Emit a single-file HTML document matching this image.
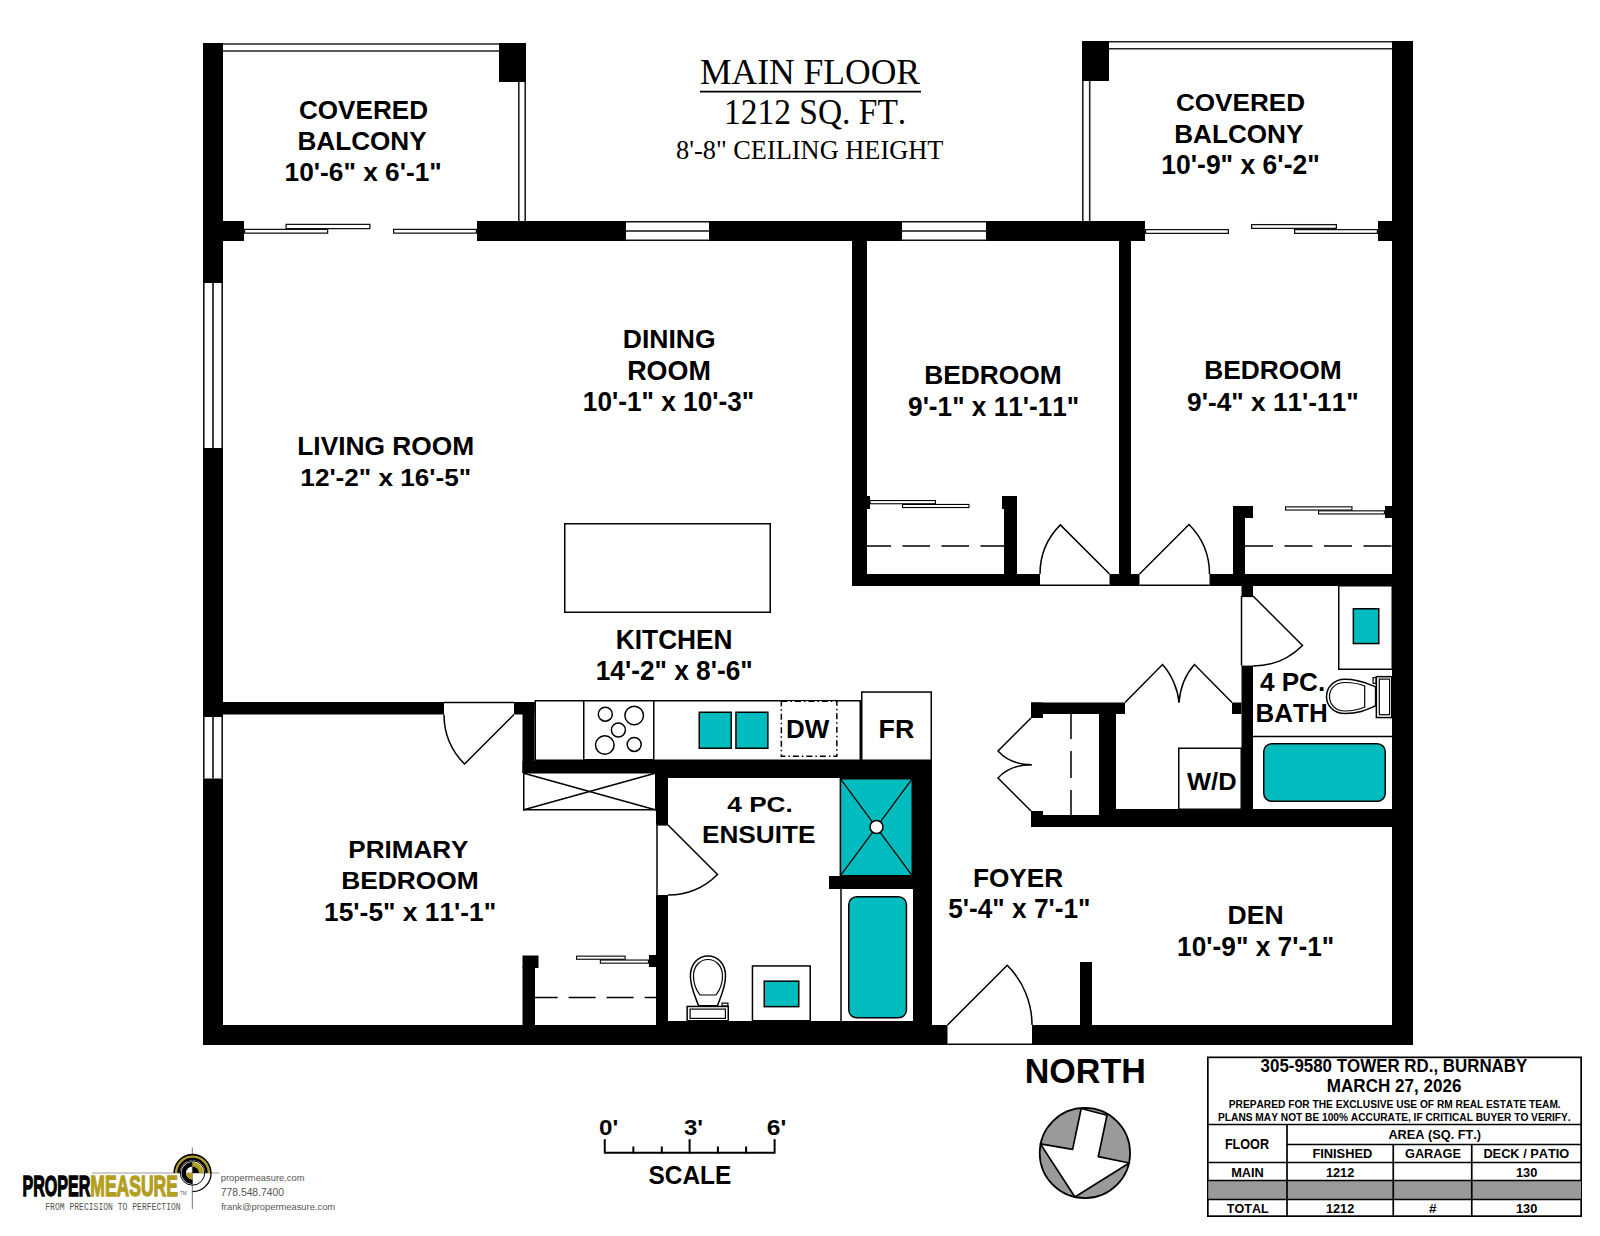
<!DOCTYPE html>
<html><head><meta charset="utf-8"><title>Main Floor Plan</title>
<style>html,body{margin:0;padding:0;background:#fff;width:1600px;height:1236px;overflow:hidden}svg{display:block}text{font-kerning:none}</style>
</head><body>
<svg width="1600" height="1236" viewBox="0 0 1600 1236">
<rect x="0" y="0" width="1600" height="1236" fill="#fff"/>
<rect x="203.00" y="43.00" width="20.00" height="240.00" fill="#000"/>
<rect x="203.00" y="448.00" width="20.00" height="269.00" fill="#000"/>
<rect x="203.00" y="778.50" width="20.00" height="266.50" fill="#000"/>
<line x1="203.80" y1="283.00" x2="203.80" y2="448.00" stroke="#111" stroke-width="1.6" />
<line x1="222.20" y1="283.00" x2="222.20" y2="448.00" stroke="#111" stroke-width="1.6" />
<line x1="213.00" y1="283.00" x2="213.00" y2="448.00" stroke="#111" stroke-width="1.6" />
<line x1="203.80" y1="717.00" x2="203.80" y2="778.50" stroke="#111" stroke-width="1.6" />
<line x1="222.20" y1="717.00" x2="222.20" y2="778.50" stroke="#111" stroke-width="1.6" />
<line x1="213.00" y1="717.00" x2="213.00" y2="778.50" stroke="#111" stroke-width="1.6" />
<line x1="223.00" y1="44.00" x2="499.00" y2="44.00" stroke="#222" stroke-width="1.6" />
<line x1="223.00" y1="51.00" x2="499.00" y2="51.00" stroke="#222" stroke-width="1.6" />
<rect x="499.00" y="43.00" width="27.00" height="39.00" fill="#000"/>
<line x1="518.80" y1="82.00" x2="518.80" y2="221.00" stroke="#222" stroke-width="1.6" />
<line x1="525.20" y1="82.00" x2="525.20" y2="221.00" stroke="#222" stroke-width="1.6" />
<rect x="223.00" y="221.00" width="21.00" height="20.00" fill="#000"/>
<rect x="477.00" y="221.00" width="149.00" height="20.00" fill="#000"/>
<line x1="626.00" y1="221.80" x2="709.00" y2="221.80" stroke="#111" stroke-width="1.6" />
<line x1="626.00" y1="240.20" x2="709.00" y2="240.20" stroke="#111" stroke-width="1.6" />
<line x1="626.00" y1="231.00" x2="709.00" y2="231.00" stroke="#111" stroke-width="1.6" />
<rect x="709.00" y="221.00" width="193.00" height="20.00" fill="#000"/>
<line x1="902.00" y1="221.80" x2="986.00" y2="221.80" stroke="#111" stroke-width="1.6" />
<line x1="902.00" y1="240.20" x2="986.00" y2="240.20" stroke="#111" stroke-width="1.6" />
<line x1="902.00" y1="231.00" x2="986.00" y2="231.00" stroke="#111" stroke-width="1.6" />
<rect x="986.00" y="221.00" width="159.00" height="20.00" fill="#000"/>
<rect x="1082.00" y="41.00" width="27.00" height="40.00" fill="#000"/>
<line x1="1109.00" y1="41.80" x2="1392.00" y2="41.80" stroke="#222" stroke-width="1.6" />
<line x1="1109.00" y1="48.70" x2="1392.00" y2="48.70" stroke="#222" stroke-width="1.6" />
<line x1="1082.80" y1="81.00" x2="1082.80" y2="221.00" stroke="#222" stroke-width="1.6" />
<line x1="1089.70" y1="81.00" x2="1089.70" y2="221.00" stroke="#222" stroke-width="1.6" />
<rect x="1392.00" y="41.00" width="21.00" height="1004.00" fill="#000"/>
<rect x="1378.00" y="221.00" width="14.00" height="20.00" fill="#000"/>
<rect x="286.12" y="224.38" width="83.75" height="4.25" fill="#fff" stroke="#111" stroke-width="1.25" />
<rect x="244.62" y="229.38" width="83.00" height="3.75" fill="#fff" stroke="#111" stroke-width="1.25" />
<rect x="393.62" y="229.38" width="82.75" height="3.75" fill="#fff" stroke="#111" stroke-width="1.25" />
<rect x="1145.62" y="229.62" width="82.75" height="3.75" fill="#fff" stroke="#111" stroke-width="1.25" />
<rect x="1251.62" y="224.62" width="84.75" height="3.75" fill="#fff" stroke="#111" stroke-width="1.25" />
<rect x="1294.62" y="229.62" width="82.75" height="3.75" fill="#fff" stroke="#111" stroke-width="1.25" />
<rect x="852.00" y="241.00" width="15.00" height="345.00" fill="#000"/>
<rect x="1119.00" y="241.00" width="12.00" height="333.00" fill="#000"/>
<rect x="852.00" y="574.00" width="188.00" height="12.00" fill="#000"/>
<rect x="1109.50" y="574.00" width="30.00" height="12.00" fill="#000"/>
<rect x="1209.50" y="574.00" width="182.50" height="12.00" fill="#000"/>
<rect x="1004.00" y="509.00" width="13.00" height="65.00" fill="#000"/>
<rect x="1002.00" y="496.00" width="15.00" height="13.00" fill="#000"/>
<rect x="1233.00" y="518.00" width="12.00" height="56.00" fill="#000"/>
<rect x="1233.00" y="506.00" width="20.00" height="12.00" fill="#000"/>
<rect x="867.00" y="496.00" width="3.00" height="13.00" fill="#000"/>
<rect x="870.05" y="500.55" width="65.40" height="3.20" fill="#fff" stroke="#000" stroke-width="1.1" />
<rect x="902.55" y="504.45" width="66.40" height="3.10" fill="#fff" stroke="#000" stroke-width="1.1" />
<rect x="1385.00" y="506.00" width="7.00" height="12.00" fill="#000"/>
<rect x="1285.55" y="506.85" width="66.40" height="3.20" fill="#fff" stroke="#000" stroke-width="1.1" />
<rect x="1318.55" y="510.85" width="65.90" height="3.10" fill="#fff" stroke="#000" stroke-width="1.1" />
<line x1="867.00" y1="546.00" x2="1004.00" y2="546.00" stroke="#000" stroke-width="1.5" stroke-dasharray="27.5 11.5" stroke-dashoffset="3.5"/>
<line x1="1245.00" y1="546.00" x2="1392.00" y2="546.00" stroke="#000" stroke-width="1.5" stroke-dasharray="28 11.5"/>
<path d="M1109.50,574.00 L1060.36,524.86 A69.50,69.50 0 0 0 1040.00,574.00" fill="#fff" stroke="#000" stroke-width="1.5" />
<line x1="1040.00" y1="585.20" x2="1109.50" y2="585.20" stroke="#000" stroke-width="1.5" />
<path d="M1139.50,574.00 L1189.00,524.50 A70.00,70.00 0 0 1 1209.50,574.00" fill="#fff" stroke="#000" stroke-width="1.5" />
<line x1="1139.50" y1="585.20" x2="1209.50" y2="585.20" stroke="#000" stroke-width="1.5" />
<rect x="1241.50" y="586.00" width="11.50" height="10.00" fill="#000"/>
<rect x="1241.50" y="665.60" width="11.50" height="143.40" fill="#000"/>
<path d="M1253.00,596.00 L1302.50,645.50 A70.00,70.00 0 0 1 1253.00,666.00" fill="#fff" stroke="#000" stroke-width="1.5" />
<line x1="1241.50" y1="596.00" x2="1241.50" y2="665.60" stroke="#000" stroke-width="1.5" />
<line x1="1241.50" y1="596.50" x2="1253.00" y2="596.50" stroke="#000" stroke-width="1.2" />
<rect x="1099.00" y="809.00" width="314.00" height="18.00" fill="#000"/>
<rect x="1043.00" y="815.00" width="56.00" height="12.00" fill="#000"/>
<rect x="1031.00" y="811.00" width="12.00" height="16.00" fill="#000"/>
<rect x="1338.75" y="585.75" width="53.50" height="83.50" fill="#fff" stroke="#000" stroke-width="1.5" />
<rect x="1353.35" y="608.75" width="25.40" height="34.80" fill="#00bcbe" stroke="#000" stroke-width="1.5" />
<rect x="1376.35" y="676.65" width="15.40" height="40.90" fill="#fff" stroke="#000" stroke-width="1.5" />
<rect x="1379.30" y="679.10" width="10.30" height="35.60" fill="#fff" stroke="#000" stroke-width="1.2" />
<rect x="1373.10" y="677.60" width="2.80" height="5.80" fill="#fff" stroke="#000" stroke-width="1.2" />
<path d="M1375.6,686.8 C1368,684 1360,679.3 1345,679.3 C1333,679.3 1326.5,688 1326.5,696.5 C1326.5,705 1333,713.5 1345,713.5 C1360,713.5 1368,709 1375.6,705.8 Z" fill="#fff" stroke="#000" stroke-width="1.5" />
<path d="M1364.7,686 C1358,683 1352,682.5 1345,682.5 C1335,682.5 1329.5,689 1329.5,696.5 C1329.5,704 1335,711 1345,711 C1352,711 1358,710 1364.7,707 Z" fill="#fff" stroke="#000" stroke-width="1.2" />
<line x1="1253.00" y1="736.50" x2="1392.00" y2="736.50" stroke="#000" stroke-width="1.5" />
<rect x="1263.75" y="743.75" width="121.5" height="57.5" rx="8" fill="#00bcbe" stroke="#000" stroke-width="1.5"/>
<rect x="1031.00" y="702.50" width="94.00" height="11.50" fill="#000"/>
<rect x="1232.00" y="702.50" width="9.50" height="11.50" fill="#000"/>
<rect x="1099.00" y="714.00" width="17.00" height="101.00" fill="#000"/>
<rect x="1031.00" y="702.50" width="12.00" height="15.50" fill="#000"/>
<line x1="1071.00" y1="714.00" x2="1071.00" y2="815.00" stroke="#000" stroke-width="1.5" stroke-dasharray="25 12 27 12"/>
<rect x="1178.75" y="748.25" width="62.50" height="61.00" fill="#fff" stroke="#000" stroke-width="1.5" />
<path d="M1125,702.5 L1162.5,664.5 C1172,675 1178,690 1179,702.5" fill="none" stroke="#000" stroke-width="1.5" />
<path d="M1232,702.5 L1194.5,664.5 C1185,675 1180,690 1179,702.5" fill="none" stroke="#000" stroke-width="1.5" />
<path d="M1031,718 L998,751 C1008,762 1020,764.75 1031.6,764.75" fill="none" stroke="#000" stroke-width="1.5" />
<path d="M1031,811 L998,778 C1008,767 1020,764.75 1031.6,764.75" fill="none" stroke="#000" stroke-width="1.5" />
<rect x="564.75" y="523.75" width="205.50" height="88.50" fill="#fff" stroke="#000" stroke-width="1.5" />
<rect x="535.25" y="700.75" width="325.00" height="59.50" fill="#fff" stroke="#000" stroke-width="1.5" />
<rect x="583.75" y="700.75" width="70.00" height="59.00" fill="#fff" stroke="#000" stroke-width="1.5" />
<circle cx="605.3" cy="714.2" r="7" fill="#fff" stroke="#000" stroke-width="1.5"/>
<circle cx="634.2" cy="715.5" r="9.3" fill="#fff" stroke="#000" stroke-width="1.5"/>
<circle cx="618.4" cy="730" r="7" fill="#fff" stroke="#000" stroke-width="1.5"/>
<circle cx="604.8" cy="745" r="9.3" fill="#fff" stroke="#000" stroke-width="1.5"/>
<circle cx="634.2" cy="744.4" r="7" fill="#fff" stroke="#000" stroke-width="1.5"/>
<rect x="699.25" y="712.25" width="32.00" height="36.00" fill="#00bcbe" stroke="#000" stroke-width="1.5" />
<rect x="735.95" y="712.25" width="31.90" height="36.00" fill="#00bcbe" stroke="#000" stroke-width="1.5" />
<rect x="781.35" y="701.25" width="55.50" height="55.00" fill="#fff" stroke="#000" stroke-width="1.5" stroke-dasharray="6 3 1.5 3"/>
<rect x="861.75" y="692.05" width="69.50" height="68.20" fill="#fff" stroke="#000" stroke-width="1.5" />
<rect x="522.50" y="761.00" width="409.50" height="12.00" fill="#000"/>
<rect x="223.00" y="702.00" width="221.00" height="12.50" fill="#000"/>
<rect x="514.00" y="702.00" width="20.50" height="12.50" fill="#000"/>
<rect x="522.50" y="702.00" width="12.00" height="71.00" fill="#000"/>
<path d="M514.00,714.50 L464.50,764.00 A70.00,70.00 0 0 1 444.00,714.50" fill="#fff" stroke="#000" stroke-width="1.5" />
<line x1="444.00" y1="702.50" x2="514.00" y2="702.50" stroke="#000" stroke-width="1.5" />
<rect x="523.75" y="772.75" width="132.00" height="37.00" fill="#fff" stroke="#000" stroke-width="1.5" />
<line x1="523.00" y1="773.00" x2="656.00" y2="810.00" stroke="#000" stroke-width="1.5" />
<line x1="523.00" y1="810.00" x2="656.00" y2="773.00" stroke="#000" stroke-width="1.5" />
<rect x="656.00" y="761.00" width="12.00" height="64.00" fill="#000"/>
<rect x="656.00" y="895.00" width="12.00" height="130.00" fill="#000"/>
<rect x="656.00" y="761.00" width="276.00" height="17.00" fill="#000"/>
<rect x="913.00" y="761.00" width="19.00" height="284.00" fill="#000"/>
<path d="M668.00,825.00 L717.50,874.50 A70.00,70.00 0 0 1 668.00,895.00" fill="#fff" stroke="#000" stroke-width="1.5" />
<line x1="657.00" y1="825.00" x2="657.00" y2="895.00" stroke="#000" stroke-width="1.5" />
<line x1="657.00" y1="825.00" x2="668.00" y2="825.00" stroke="#000" stroke-width="1.2" />
<rect x="522.50" y="955.50" width="16.00" height="12.50" fill="#000"/>
<rect x="522.50" y="967.00" width="12.50" height="58.00" fill="#000"/>
<rect x="649.00" y="955.00" width="7.00" height="12.00" fill="#000"/>
<rect x="576.55" y="956.15" width="48.60" height="3.10" fill="#fff" stroke="#000" stroke-width="1.1" />
<rect x="600.35" y="960.05" width="48.10" height="3.10" fill="#fff" stroke="#000" stroke-width="1.1" />
<line x1="535.00" y1="997.50" x2="656.00" y2="997.50" stroke="#000" stroke-width="1.5" stroke-dasharray="27 11" stroke-dashoffset="4.4"/>
<rect x="203.00" y="1025.00" width="744.50" height="20.00" fill="#000"/>
<rect x="1032.00" y="1025.00" width="381.00" height="20.00" fill="#000"/>
<rect x="839.70" y="778.00" width="73.30" height="98.50" fill="#00bcbe"/>
<rect x="840.45" y="778.75" width="71.80" height="97.00" fill="#00bcbe" stroke="#000" stroke-width="1.5" />
<line x1="840.50" y1="778.80" x2="912.20" y2="875.70" stroke="#000" stroke-width="1.3" />
<line x1="912.20" y1="778.80" x2="840.50" y2="875.70" stroke="#000" stroke-width="1.3" />
<circle cx="876.5" cy="827" r="6.5" fill="#fff" stroke="#000" stroke-width="1.5"/>
<rect x="829.00" y="876.00" width="84.00" height="13.00" fill="#000"/>
<line x1="841.00" y1="889.00" x2="841.00" y2="1021.00" stroke="#000" stroke-width="1.5" />
<rect x="848.75" y="896.75" width="57.7" height="121" rx="8" fill="#00bcbe" stroke="#000" stroke-width="1.5"/>
<rect x="668.00" y="1021.00" width="245.00" height="4.00" fill="#000"/>
<rect x="687.15" y="1006.45" width="41.10" height="14.30" fill="#fff" stroke="#000" stroke-width="1.5" />
<rect x="690.10" y="1009.10" width="35.30" height="9.30" fill="#fff" stroke="#000" stroke-width="1.2" />
<rect x="722.10" y="1003.10" width="5.80" height="2.80" fill="#fff" stroke="#000" stroke-width="1.2" />
<path d="M698.5,1005.7 C696,998 690.4,988 690.4,976 C690.4,964 698,956 708,956 C718,956 725.5,964 725.5,976 C725.5,988 720,998 717.5,1005.7 Z" fill="#fff" stroke="#000" stroke-width="1.5" />
<path d="M700,995 C696,990 693.5,985 693.5,976 C693.5,966 700,959.5 708,959.5 C716,959.5 722.5,966 722.5,976 C722.5,985 720,990 716,995 Z" fill="#fff" stroke="#000" stroke-width="1.2" />
<rect x="752.45" y="965.95" width="57.80" height="54.80" fill="#fff" stroke="#000" stroke-width="1.5" />
<rect x="764.25" y="981.15" width="34.50" height="25.50" fill="#00bcbe" stroke="#000" stroke-width="1.5" />
<path d="M947.50,1025.00 L1007.25,965.25 A84.50,84.50 0 0 1 1032.00,1025.00" fill="#fff" stroke="#000" stroke-width="1.5" />
<line x1="947.50" y1="1044.20" x2="1032.00" y2="1044.20" stroke="#000" stroke-width="1.5" />
<rect x="1080.00" y="962.00" width="12.00" height="63.00" fill="#000"/>
<text x="298.93" y="118.75" font-family="Liberation Sans" font-weight="bold" font-size="25.44" textLength="129.17" lengthAdjust="spacingAndGlyphs" fill="#000" >COVERED</text>
<text x="297.50" y="150.00" font-family="Liberation Sans" font-weight="bold" font-size="25.44" textLength="129.17" lengthAdjust="spacingAndGlyphs" fill="#000" >BALCONY</text>
<text x="284.60" y="181.25" font-family="Liberation Sans" font-weight="bold" font-size="25.44" textLength="157.14" lengthAdjust="spacingAndGlyphs" fill="#000" >10'-6&quot; x 6'-1&quot;</text>
<text x="1175.93" y="111.00" font-family="Liberation Sans" font-weight="bold" font-size="24.71" textLength="129.17" lengthAdjust="spacingAndGlyphs" fill="#000" >COVERED</text>
<text x="1174.25" y="142.50" font-family="Liberation Sans" font-weight="bold" font-size="25.44" textLength="129.17" lengthAdjust="spacingAndGlyphs" fill="#000" >BALCONY</text>
<text x="1161.33" y="174.00" font-family="Liberation Sans" font-weight="bold" font-size="26.89" textLength="158.41" lengthAdjust="spacingAndGlyphs" fill="#000" >10'-9&quot; x 6'-2&quot;</text>
<text x="622.72" y="347.50" font-family="Liberation Sans" font-weight="bold" font-size="26.16" textLength="92.92" lengthAdjust="spacingAndGlyphs" fill="#000" >DINING</text>
<text x="627.20" y="379.50" font-family="Liberation Sans" font-weight="bold" font-size="26.89" textLength="83.60" lengthAdjust="spacingAndGlyphs" fill="#000" >ROOM</text>
<text x="582.85" y="411.00" font-family="Liberation Sans" font-weight="bold" font-size="26.89" textLength="171.38" lengthAdjust="spacingAndGlyphs" fill="#000" >10'-1&quot; x 10'-3&quot;</text>
<text x="297.24" y="454.50" font-family="Liberation Sans" font-weight="bold" font-size="25.44" textLength="177.02" lengthAdjust="spacingAndGlyphs" fill="#000" >LIVING ROOM</text>
<text x="300.35" y="486.00" font-family="Liberation Sans" font-weight="bold" font-size="24.71" textLength="170.87" lengthAdjust="spacingAndGlyphs" fill="#000" >12'-2&quot; x 16'-5&quot;</text>
<text x="924.24" y="384.00" font-family="Liberation Sans" font-weight="bold" font-size="26.16" textLength="137.52" lengthAdjust="spacingAndGlyphs" fill="#000" >BEDROOM</text>
<text x="908.09" y="416.00" font-family="Liberation Sans" font-weight="bold" font-size="26.89" textLength="171.13" lengthAdjust="spacingAndGlyphs" fill="#000" >9'-1&quot; x 11'-11&quot;</text>
<text x="1204.24" y="379.00" font-family="Liberation Sans" font-weight="bold" font-size="26.16" textLength="137.52" lengthAdjust="spacingAndGlyphs" fill="#000" >BEDROOM</text>
<text x="1187.09" y="410.60" font-family="Liberation Sans" font-weight="bold" font-size="25.58" textLength="171.64" lengthAdjust="spacingAndGlyphs" fill="#000" >9'-4&quot; x 11'-11&quot;</text>
<text x="615.84" y="648.60" font-family="Liberation Sans" font-weight="bold" font-size="27.04" textLength="116.73" lengthAdjust="spacingAndGlyphs" fill="#000" >KITCHEN</text>
<text x="595.75" y="679.50" font-family="Liberation Sans" font-weight="bold" font-size="26.89" textLength="156.98" lengthAdjust="spacingAndGlyphs" fill="#000" >14'-2&quot; x 8'-6&quot;</text>
<text x="785.96" y="738.00" font-family="Liberation Sans" font-weight="bold" font-size="25.15" textLength="43.26" lengthAdjust="spacingAndGlyphs" fill="#000" >DW</text>
<text x="878.61" y="738.00" font-family="Liberation Sans" font-weight="bold" font-size="25.15" textLength="35.64" lengthAdjust="spacingAndGlyphs" fill="#000" >FR</text>
<text x="1259.90" y="691.00" font-family="Liberation Sans" font-weight="bold" font-size="25.58" textLength="65.29" lengthAdjust="spacingAndGlyphs" fill="#000" >4 PC.</text>
<text x="1255.56" y="722.00" font-family="Liberation Sans" font-weight="bold" font-size="25.58" textLength="72.09" lengthAdjust="spacingAndGlyphs" fill="#000" >BATH</text>
<text x="1186.98" y="790.00" font-family="Liberation Sans" font-weight="bold" font-size="23.26" textLength="49.60" lengthAdjust="spacingAndGlyphs" fill="#000" >W/D</text>
<text x="727.35" y="812.00" font-family="Liberation Sans" font-weight="bold" font-size="22.38" textLength="65.45" lengthAdjust="spacingAndGlyphs" fill="#000" >4 PC.</text>
<text x="702.00" y="843.40" font-family="Liberation Sans" font-weight="bold" font-size="24.42" textLength="113.42" lengthAdjust="spacingAndGlyphs" fill="#000" >ENSUITE</text>
<text x="348.26" y="857.50" font-family="Liberation Sans" font-weight="bold" font-size="24.35" textLength="120.16" lengthAdjust="spacingAndGlyphs" fill="#000" >PRIMARY</text>
<text x="341.24" y="889.00" font-family="Liberation Sans" font-weight="bold" font-size="23.98" textLength="137.52" lengthAdjust="spacingAndGlyphs" fill="#000" >BEDROOM</text>
<text x="324.09" y="921.00" font-family="Liberation Sans" font-weight="bold" font-size="26.16" textLength="172.14" lengthAdjust="spacingAndGlyphs" fill="#000" >15'-5&quot; x 11'-1&quot;</text>
<text x="972.94" y="886.60" font-family="Liberation Sans" font-weight="bold" font-size="25.58" textLength="90.39" lengthAdjust="spacingAndGlyphs" fill="#000" >FOYER</text>
<text x="948.19" y="918.40" font-family="Liberation Sans" font-weight="bold" font-size="27.18" textLength="142.29" lengthAdjust="spacingAndGlyphs" fill="#000" >5'-4&quot; x 7'-1&quot;</text>
<text x="1227.62" y="923.75" font-family="Liberation Sans" font-weight="bold" font-size="25.80" textLength="56.07" lengthAdjust="spacingAndGlyphs" fill="#000" >DEN</text>
<text x="1177.10" y="956.00" font-family="Liberation Sans" font-weight="bold" font-size="27.62" textLength="157.14" lengthAdjust="spacingAndGlyphs" fill="#000" >10'-9&quot; x 7'-1&quot;</text>
<text x="699.98" y="84.00" font-family="Liberation Serif" font-weight="normal" font-size="35.13" textLength="220.08" lengthAdjust="spacingAndGlyphs" fill="#000" >MAIN FLOOR</text>
<line x1="700.00" y1="91.60" x2="921.00" y2="91.60" stroke="#000" stroke-width="1.6" />
<text x="724.06" y="124.00" font-family="Liberation Serif" font-weight="normal" font-size="35.13" textLength="182.14" lengthAdjust="spacingAndGlyphs" fill="#000" >1212 SQ. FT.</text>
<text x="676.00" y="159.00" font-family="Liberation Serif" font-weight="normal" font-size="27.49" textLength="267.44" lengthAdjust="spacingAndGlyphs" fill="#000" >8'-8&quot; CEILING HEIGHT</text>
<text x="1024.72" y="1082.80" font-family="Liberation Sans" font-weight="bold" font-size="35.03" textLength="121.07" lengthAdjust="spacingAndGlyphs" fill="#000" >NORTH</text>
<circle cx="1084.9" cy="1153" r="45.2" fill="#9a9a9a" stroke="#000" stroke-width="1.7"/>
<path d="M1081.2,1108.5 L1107,1115.3 L1098.3,1156.6 L1129.3,1163 L1074.9,1197 L1040.4,1143.9 L1072.6,1149.4 Z" fill="#fff" stroke="#000" stroke-width="1.7" stroke-linejoin="round"/>
<line x1="604.75" y1="1152.70" x2="774.60" y2="1152.70" stroke="#000" stroke-width="2" />
<line x1="604.75" y1="1139.20" x2="604.75" y2="1153.50" stroke="#000" stroke-width="2" />
<line x1="689.60" y1="1139.20" x2="689.60" y2="1153.50" stroke="#000" stroke-width="2" />
<line x1="774.60" y1="1139.20" x2="774.60" y2="1153.50" stroke="#000" stroke-width="2" />
<line x1="633.35" y1="1146.50" x2="633.35" y2="1153.50" stroke="#000" stroke-width="2" />
<line x1="661.80" y1="1146.50" x2="661.80" y2="1153.50" stroke="#000" stroke-width="2" />
<line x1="717.90" y1="1146.50" x2="717.90" y2="1153.50" stroke="#000" stroke-width="2" />
<line x1="746.10" y1="1146.50" x2="746.10" y2="1153.50" stroke="#000" stroke-width="2" />
<text x="599.04" y="1135.00" font-family="Liberation Sans" font-weight="bold" font-size="22.89" textLength="19.21" lengthAdjust="spacingAndGlyphs" fill="#000" >0'</text>
<text x="683.95" y="1135.00" font-family="Liberation Sans" font-weight="bold" font-size="22.89" textLength="18.99" lengthAdjust="spacingAndGlyphs" fill="#000" >3'</text>
<text x="766.80" y="1135.00" font-family="Liberation Sans" font-weight="bold" font-size="22.89" textLength="19.47" lengthAdjust="spacingAndGlyphs" fill="#000" >6'</text>
<text x="648.50" y="1183.90" font-family="Liberation Sans" font-weight="bold" font-size="25.00" textLength="82.76" lengthAdjust="spacingAndGlyphs" fill="#000" >SCALE</text>
<rect x="1207.85" y="1057.35" width="373.30" height="158.80" fill="#fff" stroke="#000" stroke-width="1.7" />
<rect x="1208.50" y="1180.50" width="372.50" height="19.00" fill="#999"/>
<line x1="1207.50" y1="1124.50" x2="1582.00" y2="1124.50" stroke="#000" stroke-width="1.7" />
<line x1="1287.00" y1="1124.50" x2="1287.00" y2="1217.00" stroke="#000" stroke-width="1.7" />
<line x1="1287.00" y1="1144.50" x2="1582.00" y2="1144.50" stroke="#000" stroke-width="1.7" />
<line x1="1207.50" y1="1162.50" x2="1582.00" y2="1162.50" stroke="#000" stroke-width="1.7" />
<line x1="1393.25" y1="1144.50" x2="1393.25" y2="1217.00" stroke="#000" stroke-width="1.7" />
<line x1="1471.75" y1="1144.50" x2="1471.75" y2="1217.00" stroke="#000" stroke-width="1.7" />
<line x1="1207.50" y1="1180.50" x2="1582.00" y2="1180.50" stroke="#000" stroke-width="1.7" />
<line x1="1207.50" y1="1199.50" x2="1582.00" y2="1199.50" stroke="#000" stroke-width="1.7" />
<text x="1260.61" y="1072.00" font-family="Liberation Sans" font-weight="bold" font-size="17.44" textLength="266.66" lengthAdjust="spacingAndGlyphs" fill="#000" >305-9580 TOWER RD., BURNABY</text>
<text x="1326.86" y="1092.00" font-family="Liberation Sans" font-weight="bold" font-size="17.44" textLength="134.51" lengthAdjust="spacingAndGlyphs" fill="#000" >MARCH 27, 2026</text>
<text x="1228.82" y="1107.60" font-family="Liberation Sans" font-weight="bold" font-size="10.47" textLength="331.88" lengthAdjust="spacingAndGlyphs" fill="#000" >PREPARED FOR THE EXCLUSIVE USE OF RM REAL ESTATE TEAM.</text>
<text x="1218.07" y="1121.10" font-family="Liberation Sans" font-weight="bold" font-size="10.17" textLength="352.63" lengthAdjust="spacingAndGlyphs" fill="#000" >PLANS MAY NOT BE 100% ACCURATE, IF CRITICAL BUYER TO VERIFY.</text>
<text x="1224.91" y="1148.75" font-family="Liberation Sans" font-weight="bold" font-size="13.81" textLength="44.10" lengthAdjust="spacingAndGlyphs" fill="#000" >FLOOR</text>
<text x="1388.43" y="1139.00" font-family="Liberation Sans" font-weight="bold" font-size="13.08" textLength="92.70" lengthAdjust="spacingAndGlyphs" fill="#000" >AREA (SQ. FT.)</text>
<text x="1312.39" y="1158.25" font-family="Liberation Sans" font-weight="bold" font-size="13.08" textLength="59.90" lengthAdjust="spacingAndGlyphs" fill="#000" >FINISHED</text>
<text x="1404.98" y="1158.25" font-family="Liberation Sans" font-weight="bold" font-size="13.08" textLength="56.02" lengthAdjust="spacingAndGlyphs" fill="#000" >GARAGE</text>
<text x="1483.40" y="1158.25" font-family="Liberation Sans" font-weight="bold" font-size="13.08" textLength="85.89" lengthAdjust="spacingAndGlyphs" fill="#000" >DECK / PATIO</text>
<text x="1231.14" y="1176.50" font-family="Liberation Sans" font-weight="bold" font-size="13.08" textLength="32.72" lengthAdjust="spacingAndGlyphs" fill="#000" >MAIN</text>
<text x="1325.95" y="1176.50" font-family="Liberation Sans" font-weight="bold" font-size="13.08" textLength="28.31" lengthAdjust="spacingAndGlyphs" fill="#000" >1212</text>
<text x="1515.94" y="1176.50" font-family="Liberation Sans" font-weight="bold" font-size="13.08" textLength="21.33" lengthAdjust="spacingAndGlyphs" fill="#000" >130</text>
<text x="1226.86" y="1213.00" font-family="Liberation Sans" font-weight="bold" font-size="13.44" textLength="41.78" lengthAdjust="spacingAndGlyphs" fill="#000" >TOTAL</text>
<text x="1325.95" y="1213.00" font-family="Liberation Sans" font-weight="bold" font-size="13.44" textLength="28.31" lengthAdjust="spacingAndGlyphs" fill="#000" >1212</text>
<text x="1429.02" y="1213.00" font-family="Liberation Sans" font-weight="bold" font-size="13.44" textLength="7.44" lengthAdjust="spacingAndGlyphs" fill="#000" >#</text>
<text x="1515.94" y="1213.00" font-family="Liberation Sans" font-weight="bold" font-size="13.44" textLength="21.33" lengthAdjust="spacingAndGlyphs" fill="#000" >130</text>
<line x1="91.80" y1="1173.00" x2="219.30" y2="1173.00" stroke="#999" stroke-width="1" />
<line x1="192.30" y1="1147.40" x2="192.30" y2="1209.00" stroke="#777" stroke-width="1" />
<text x="22.42" y="1196.40" font-family="Liberation Sans" font-weight="bold" font-size="28.78" textLength="67.91" lengthAdjust="spacingAndGlyphs" fill="#000" stroke="#000" stroke-width="1.3">PROPER</text>
<text x="90.33" y="1196.40" font-family="Liberation Sans" font-weight="bold" font-size="28.78" textLength="87.56" lengthAdjust="spacingAndGlyphs" fill="#b39e22" stroke="#b39e22" stroke-width="1.3">MEASURE</text>
<text x="179.89" y="1195.00" font-family="Liberation Sans" font-weight="normal" font-size="5.81" textLength="6.90" lengthAdjust="spacingAndGlyphs" fill="#666" >TM</text>
<text x="45.24" y="1210.00" font-family="Liberation Mono" font-weight="normal" font-size="10.17" textLength="135.40" lengthAdjust="spacingAndGlyphs" fill="#555" >FROM PRECISION TO PERFECTION</text>
<text x="220.80" y="1180.50" font-family="Liberation Sans" font-weight="normal" font-size="9.65" textLength="83.72" lengthAdjust="spacingAndGlyphs" fill="#555" >propermeasure.com</text>
<text x="220.87" y="1195.50" font-family="Liberation Sans" font-weight="normal" font-size="10.61" textLength="63.03" lengthAdjust="spacingAndGlyphs" fill="#555" >778.548.7400</text>
<text x="221.27" y="1209.90" font-family="Liberation Sans" font-weight="normal" font-size="9.46" textLength="113.85" lengthAdjust="spacingAndGlyphs" fill="#555" >frank@propermeasure.com</text>
<path d="M173.30,1173.00 A19.2,19.2 0 0 1 211.70,1173.00 L205.30,1173.00 A12.8,12.8 0 0 0 179.70,1173.00 Z" fill="#000"/>
<path d="M174.90,1173.00 A17.6,17.6 0 0 1 210.10,1173.00 L207.70,1173.00 A15.2,15.2 0 0 0 177.30,1173.00 Z" fill="#b39e22"/>
<path d="M211.1,1173 A18.6,18.6 0 0 1 192.5,1191.6" fill="none" stroke="#000" stroke-width="1.3"/>
<circle cx="192.5" cy="1173" r="12.2" fill="none" stroke="#000" stroke-width="1"/>
<path d="M192.50,1184.00 A11,11 0 0 1 192.50,1162.00 L192.50,1166.50 A6.5,6.5 0 0 0 192.50,1179.50 Z" fill="#000"/>
<path d="M192.5,1173 L192.50,1179.50 A6.5,6.5 0 0 1 186.00,1173.00 Z" fill="#b39e22"/>
<path d="M192.50,1162.00 A11,11 0 0 1 203.50,1173.00 L199.00,1173.00 A6.5,6.5 0 0 0 192.50,1166.50 Z" fill="#b39e22"/>
<path d="M192.5,1173 L192.50,1166.50 A6.5,6.5 0 0 1 199.00,1173.00 Z" fill="#000"/>
</svg>
</body></html>
